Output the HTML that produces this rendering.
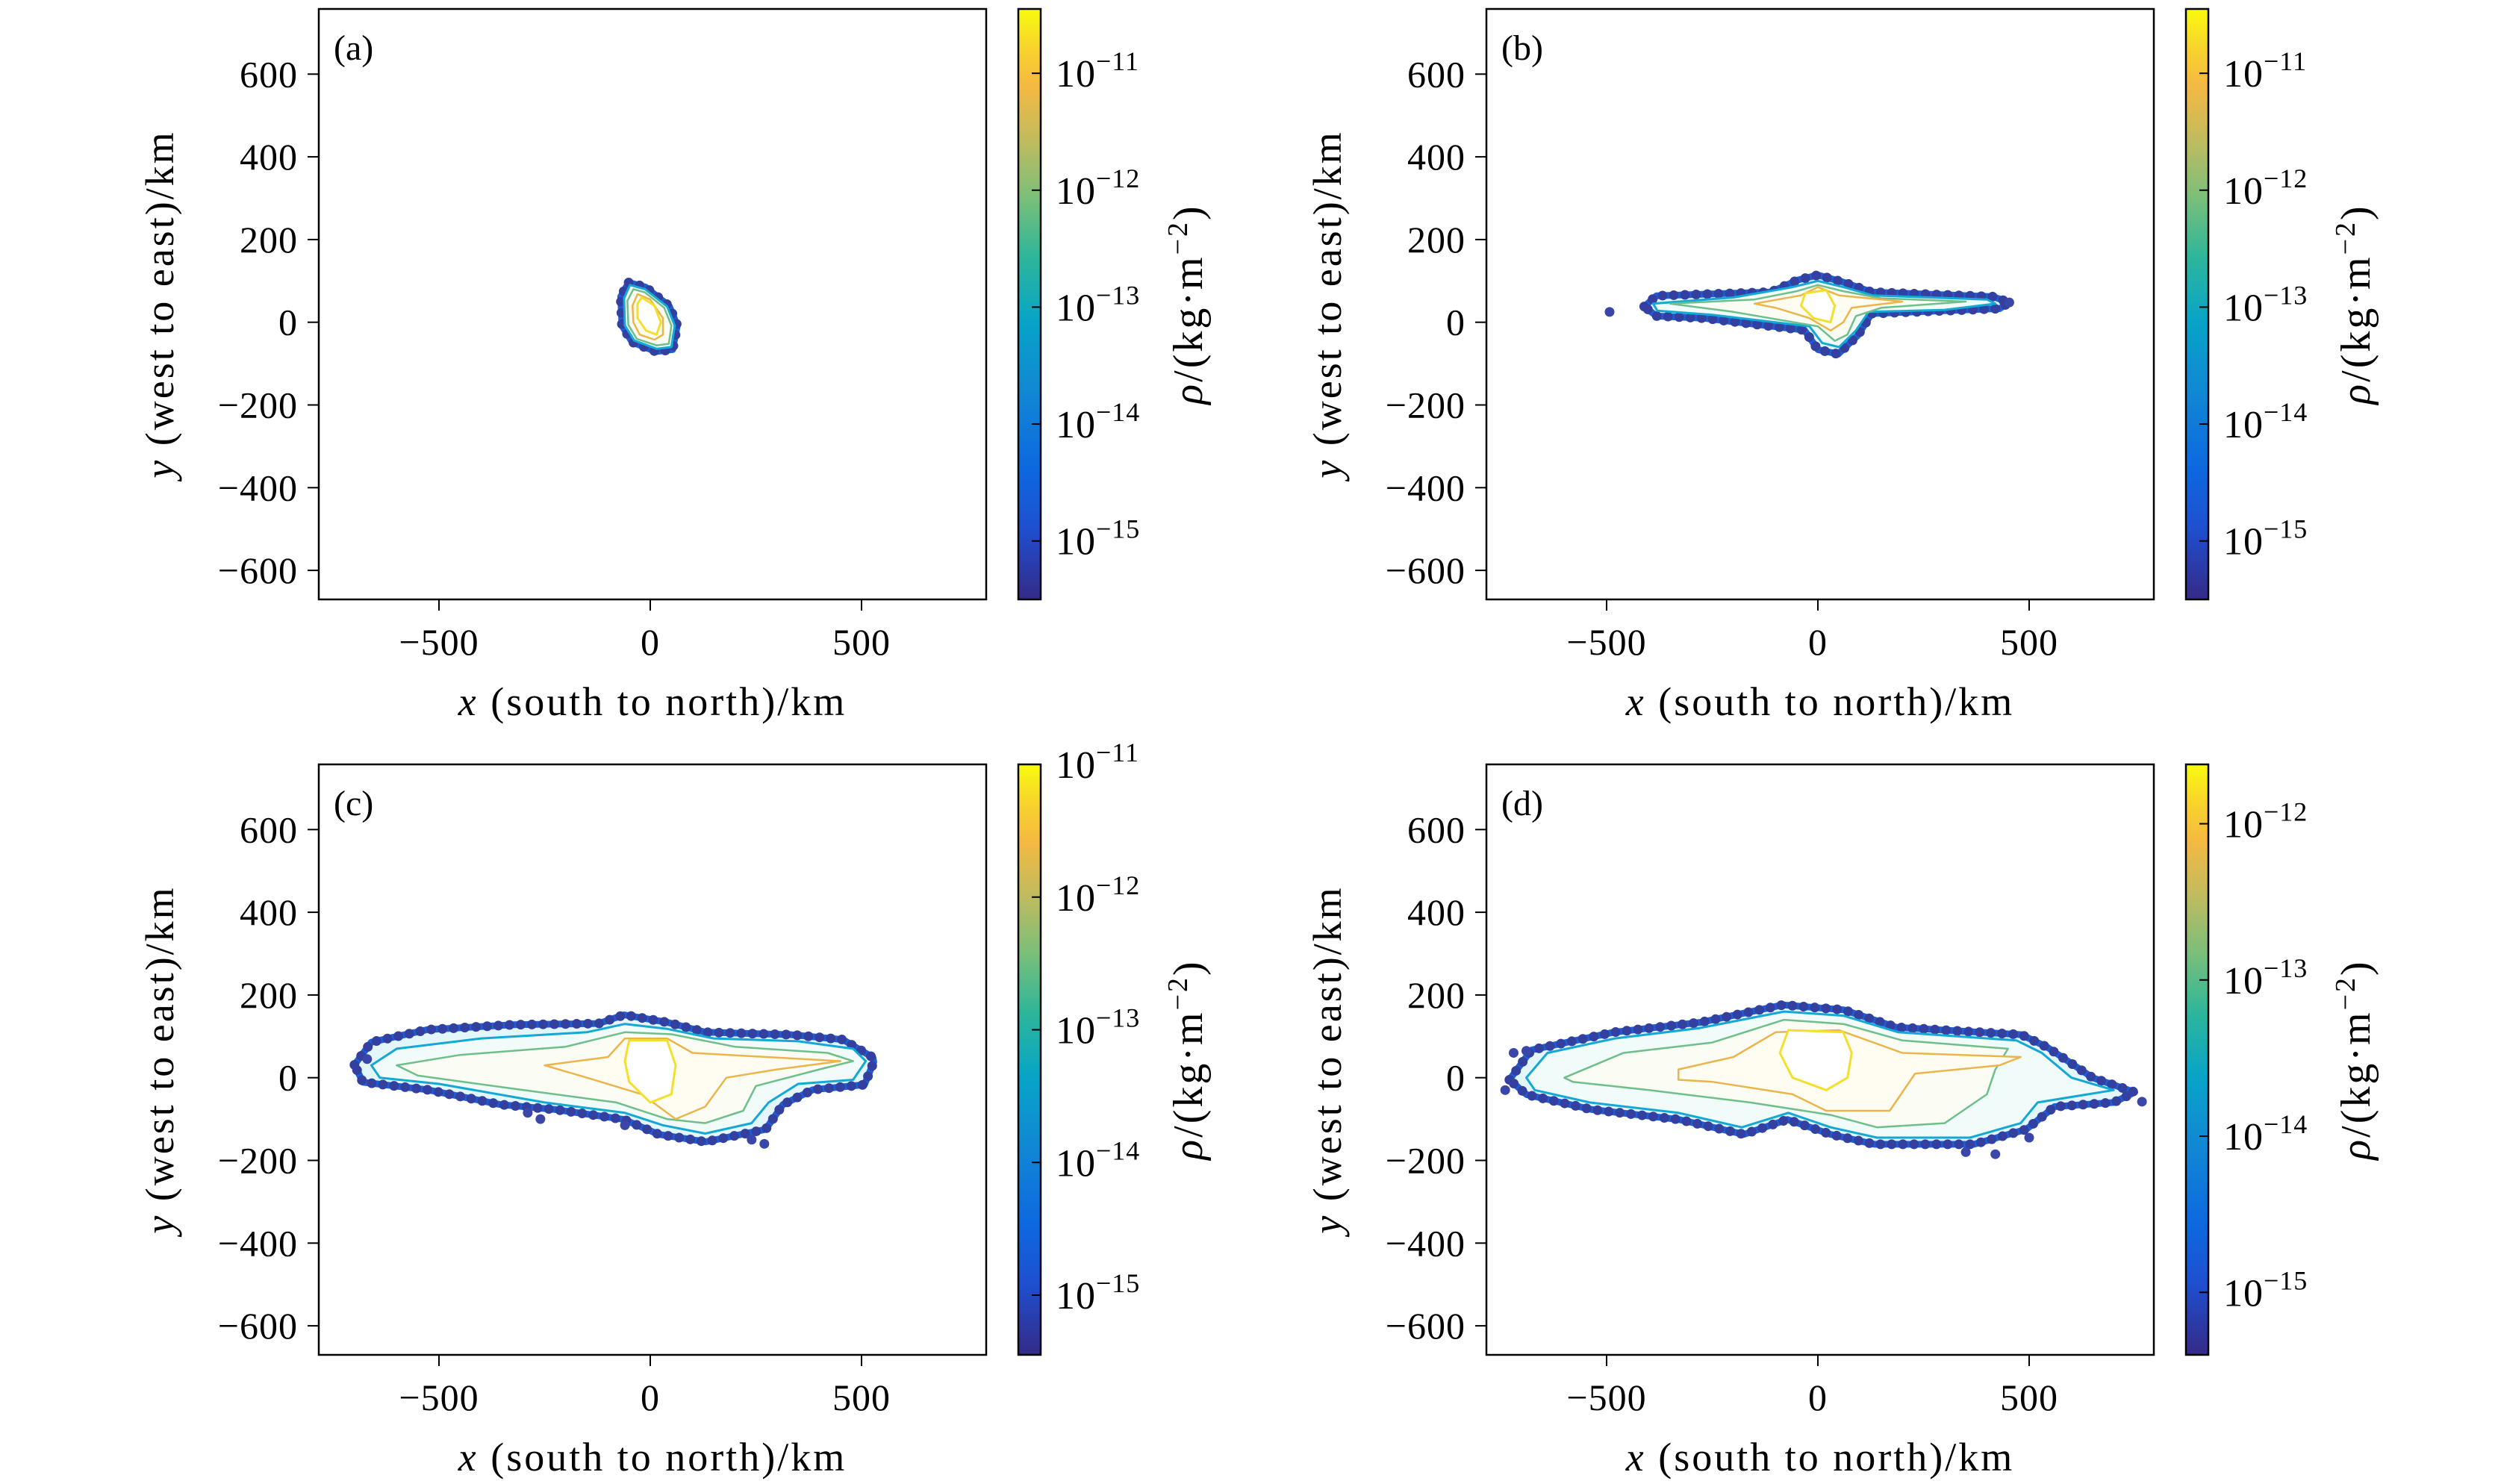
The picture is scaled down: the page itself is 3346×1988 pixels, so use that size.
<!DOCTYPE html>
<html><head><meta charset="utf-8"><style>
html,body{margin:0;padding:0;background:#fff;}
svg{display:block;font-family:"Liberation Serif",serif;}
</style></head><body>
<svg id="fig" width="3346" height="1988" viewBox="0 0 3346 1988" xmlns="http://www.w3.org/2000/svg">
<defs>
<linearGradient id="parula" x1="0" y1="1" x2="0" y2="0">
<stop offset="0" stop-color="#352a87"/><stop offset="0.12" stop-color="#1f4fd0"/>
<stop offset="0.22" stop-color="#0d68e0"/><stop offset="0.35" stop-color="#1187d4"/>
<stop offset="0.47" stop-color="#07a4c8"/><stop offset="0.58" stop-color="#2eb69a"/>
<stop offset="0.68" stop-color="#7abf7a"/><stop offset="0.78" stop-color="#c2bb5e"/>
<stop offset="0.87" stop-color="#f5b942"/><stop offset="0.94" stop-color="#f8d62a"/>
<stop offset="1" stop-color="#f9fb0e"/>
</linearGradient>
</defs>
</svg>
<script>
// ---- data ----
const xTicks = [-500, 0, 500];
const yTicks = [-600, -400, -200, 0, 200, 400, 600];
const cbTicksA = [-11, -12, -13, -14, -15];
const cbTicksB = [-11, -12, -13, -14, -15];
const cbTicksC = [-11, -12, -13, -14, -15];
const cbTicksD = [-12, -13, -14, -15];
const cbRangeA = [-15.5, -10.45];
const cbRangeB = [-15.5, -10.45];
const cbRangeC = [-15.45, -11.0];
const cbRangeD = [-15.4, -11.62];
const panelLabels = ["(a)", "(b)", "(c)", "(d)"];

const outerA = [[-51,96],[-11,85],[45,39],[64,-8],[53,-66],[13,-71],[-43,-48],[-67,-8],[-70,62]];
const cyanA = [[-48,90],[-12,80],[40,38],[58,-8],[50,-60],[15,-64],[-38,-44],[-60,-8],[-62,58]];
const greenA = [[-40,80],[-12,72],[33,35],[50,-8],[44,-52],[15,-56],[-32,-40],[-52,-6],[-54,52]];
const orangeA = [[-30,68],[0,55],[30,10],[30,-30],[10,-42],[-25,-30],[-40,0],[-42,40]];
const yellowA = [[-20,60],[10,40],[25,0],[15,-30],[-10,-20],[-30,10],[-30,45]];
const dotsA = [];

const outerB = [[-411,38],[-382,64],[-111,73],[-48,102],[0,114],[63,96],[127,73],[414,62],[453,48],[430,33],[127,21],[95,-31],[48,-77],[0,-66],[-32,-19],[-271,10],[-382,15]];
const cyanB = [[-390,45],[-200,60],[-60,85],[0,100],[60,85],[130,65],[400,55],[420,45],[300,30],[120,25],[90,-20],[50,-60],[10,-50],[-20,-10],[-250,18],[-380,28]];
const greenB = [[-350,45],[-150,55],[-50,75],[0,90],[60,75],[150,58],[350,50],[150,35],[90,15],[70,-30],[40,-45],[0,-10],[-200,25]];
const orangeB = [[-150,45],[-40,65],[0,85],[50,65],[200,50],[80,35],[60,0],[30,-20],[-20,10],[-100,35]];
const yellowB = [[-30,70],[20,78],[40,40],[30,0],[-10,10],[-40,40]];
const dotsB = [[-493,25],[453,48]];

const outerC = [[-700,31],[-660,86],[-528,116],[-325,128],[-122,131],[-62,152],[40,134],[131,110],[334,104],[456,92],[527,49],[529,38],[507,-17],[385,-29],[314,-65],[273,-125],[131,-155],[20,-137],[-62,-101],[-224,-77],[-355,-65],[-528,-29],[-680,-11]];
const cyanC = [[-660,30],[-600,70],[-400,95],[-150,110],[-60,130],[40,118],[150,95],[350,88],[480,70],[510,40],[480,-5],[350,-15],[280,-60],[240,-110],[130,-135],[30,-115],[-60,-85],[-250,-60],[-500,-15],[-640,0]];
const greenC = [[-600,30],[-450,55],[-200,75],[-60,110],[50,105],[200,75],[420,60],[480,40],[400,20],[250,-20],[220,-80],[130,-110],[40,-100],[-80,-60],[-300,-30],[-550,5]];
const orangeC = [[-250,30],[-100,50],[-60,95],[40,95],[100,60],[450,40],[300,20],[180,0],[130,-70],[60,-100],[-20,-40],[-150,0]];
const yellowC = [[-50,90],[40,90],[60,30],[50,-40],[0,-60],[-50,-10],[-60,40]];
const dotsC = [[-670,45],[-290,-85],[-260,-100],[240,-150],[270,-160],[-60,-115]];

const outerD = [[-730,-5],[-678,67],[-483,110],[-277,134],[-83,176],[61,164],[185,122],[482,104],[544,73],[650,0],[750,-35],[700,-60],[560,-70],[493,-125],[369,-161],[134,-161],[30,-137],[-72,-101],[-175,-137],[-329,-101],[-535,-77],[-689,-41]];
const cyanD = [[-690,0],[-640,60],[-480,95],[-280,120],[-80,160],[60,150],[190,110],[470,90],[530,60],[600,0],[700,-30],[520,-60],[480,-110],[360,-145],[140,-145],[30,-120],[-70,-85],[-180,-120],[-330,-85],[-540,-60],[-670,-30]];
const greenD = [[-600,0],[-460,60],[-250,85],[-80,140],[60,130],[200,90],[450,70],[420,20],[400,-40],[300,-110],[140,-120],[30,-90],[-160,-60],[-400,-30],[-580,-10]];
const orangeD = [[-330,20],[-200,50],[-100,110],[50,115],[200,60],[480,50],[430,30],[230,10],[170,-80],[20,-80],[-60,-40],[-250,-10],[-330,-5]];
const yellowD = [[-70,115],[60,110],[80,60],[70,0],[20,-30],[-60,0],[-90,60]];
const dotsD = [[-720,60],[-690,65],[-740,-30],[767,-58],[350,-180],[420,-185],[500,-145]];

// ---- layout ----
const NS = "http://www.w3.org/2000/svg";
const svg = document.getElementById("fig");
const panels = [
  {dx:0, dy:0, cb:cbTicksA, cr:cbRangeA, L:[outerA,cyanA,greenA,orangeA,yellowA], dots:dotsA, id:"a"},
  {dx:1564, dy:0, cb:cbTicksB, cr:cbRangeB, L:[outerB,cyanB,greenB,orangeB,yellowB], dots:dotsB, id:"b"},
  {dx:0, dy:1012, cb:cbTicksC, cr:cbRangeC, L:[outerC,cyanC,greenC,orangeC,yellowC], dots:dotsC, id:"c"},
  {dx:1564, dy:1012, cb:cbTicksD, cr:cbRangeD, L:[outerD,cyanD,greenD,orangeD,yellowD], dots:dotsD, id:"d"}
];
function mk(tag, attrs, parent){
  const e = document.createElementNS(NS, tag);
  for (const k in attrs) e.setAttribute(k, attrs[k]);
  (parent||svg).appendChild(e); return e;
}
const styles = [
  {fill:"#e3f6fb", stroke:"#1d5fd8", w:9},
  {fill:"#f0fbfa", stroke:"#14a8d4", w:3},
  {fill:"#fbfdf4", stroke:"#6fbf8a", w:2.5},
  {fill:"#fffdf2", stroke:"#ebb54c", w:2.5},
  {fill:"#ffffff", stroke:"#f3df2e", w:3}
];
panels.forEach((p, i) => {
  const L = 427 + p.dx, R = 1321 + p.dx, T = 12 + p.dy, B = 803 + p.dy;
  const sx = v => 871 + p.dx + v * 0.566;
  const sy = v => 431.7 + p.dy - v * 0.554;
  const g = mk("g", {});
  
  
  p.L.forEach((poly, k) => {
    const d = poly.map((pt, j) => (j ? "L" : "M") + sx(pt[0]).toFixed(1) + " " + sy(pt[1]).toFixed(1)).join(" ") + "Z";
    const path = mk("path", {d:d, fill:styles[k].fill, stroke:styles[k].stroke, "stroke-width":styles[k].w, "stroke-linejoin":"round"}, g);
    
    
    if (k === 0) {
      const p2 = mk("path", {d:d, fill:"none", stroke:"#33409f", "stroke-width":13, "stroke-dasharray":"0 15", "stroke-linecap":"round"}, g);
      
      
    }
  });
  p.dots.forEach(pt => {
    const c = mk("circle", {cx:sx(pt[0]), cy:sy(pt[1]), r:6.5, fill:"#3a47a8"}, g);
    
    
  });
  const box = mk("rect", {x:L, y:T, width:R-L, height:B-T, fill:"none", stroke:"#000", "stroke-width":2.5}, g);
  
  
  xTicks.forEach(v => {
    mk("line", {x1:sx(v), x2:sx(v), y1:B, y2:B+15, stroke:"#000", "stroke-width":2}, g);
    const t = mk("text", {x:sx(v), y:B+74, "font-size":50, "text-anchor":"middle", "letter-spacing":1}, g);
    t.textContent = (v < 0 ? "\u2212" : "") + Math.abs(v);
    
    
  });
  yTicks.forEach(v => {
    mk("line", {x1:L-15, x2:L, y1:sy(v), y2:sy(v), stroke:"#000", "stroke-width":2}, g);
    const t = mk("text", {x:L-28, y:sy(v)+17, "font-size":50, "text-anchor":"end", "letter-spacing":1}, g);
    t.textContent = (v < 0 ? "\u2212" : "") + Math.abs(v);
    
    
  });
  const pl = mk("text", {x:L+20, y:T+68, "font-size":48}, g);
  pl.textContent = panelLabels[i];
  
  
  const xl = mk("text", {x:(L+R)/2, y:B+155, "font-size":54, "text-anchor":"middle", "letter-spacing":3}, g);
  xl.innerHTML = '<tspan font-style="italic">x</tspan> (south to north)/km';
  
  
  const yl = mk("text", {x:0, y:0, "font-size":54, "text-anchor":"middle", "letter-spacing":3, transform:`translate(${L-195},${(T+B)/2}) rotate(-90)`}, g);
  yl.innerHTML = '<tspan font-style="italic">y</tspan> (west to east)/km';
  
  
  const cL = 1364 + p.dx, cW = 30;
  const cb = mk("rect", {x:cL, y:T, width:cW, height:B-T, fill:"url(#parula)", stroke:"#000", "stroke-width":2.5}, g);
  
  
  const cy = e => B - (e - p.cr[0]) / (p.cr[1] - p.cr[0]) * (B - T);
  p.cb.forEach(e => {
    mk("line", {x1:cL+cW-12, x2:cL+cW, y1:cy(e), y2:cy(e), stroke:"#000", "stroke-width":2}, g);
    const t = mk("text", {x:cL+cW+20, y:cy(e)+18, "font-size":52, "letter-spacing":1}, g);
    t.innerHTML = '10<tspan dy="-22" font-size="36">\u2212' + Math.abs(e) + '</tspan>';
    
    
  });
  const cl = mk("text", {x:0, y:0, "font-size":56, "text-anchor":"middle", "letter-spacing":3, transform:`translate(${cL+246},${(T+B)/2}) rotate(-90)`}, g);
  cl.innerHTML = '<tspan font-style="italic">\u03c1</tspan>/(kg\u00b7m<tspan dy="-20" font-size="38">\u22122</tspan><tspan dy="20">)</tspan>';
  
  
});
</script>
</body></html>
